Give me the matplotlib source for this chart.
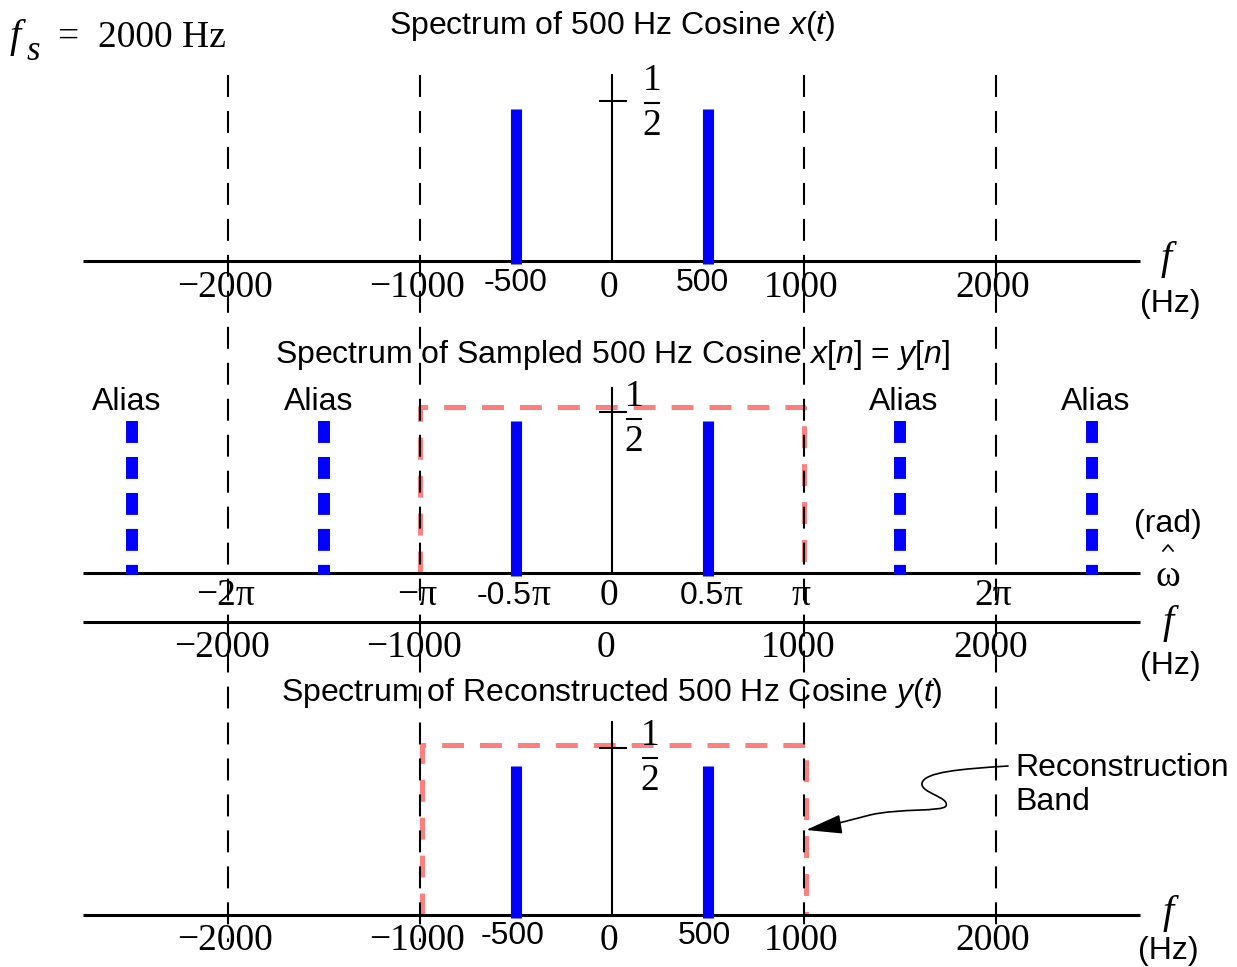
import numpy as np
import matplotlib
matplotlib.use('Agg')
import matplotlib.pyplot as plt
from matplotlib.path import Path
from matplotlib.patches import FancyArrowPatch

plt.rcParams['lines.scale_dashes'] = False
plt.rcParams['mathtext.fontset'] = 'custom'
plt.rcParams['mathtext.rm'] = 'Liberation Sans'
plt.rcParams['mathtext.it'] = 'Liberation Sans:italic'

SERIF = 'Liberation Serif'
SANS = 'Liberation Sans'

# data
fs = 2000                       # Hz sampling rate
f0 = 500                        # Hz cosine
amp = 0.5
spec_freqs = [-500, 500]        # original lines
alias_freqs = [-2500, -1500, 1500, 2500]
grid_freqs = [-2000, -1000, 1000, 2000]
band = [-fs / 2, fs / 2]        # reconstruction band
hz_ticks = [-2000, -1000, 0, 1000, 2000]
hz_labels = ['\u22122000', '\u22121000', '0', '1000', '2000']
w_ticks = [-2000, -1000, 0, 1000, 2000]
w_labels = ['\u22122\u03c0', '\u2212\u03c0', '0', '\u03c0', '2\u03c0']
w_half_ticks = [-500, 500]
w_half_labels = ['-0.5', '0.5']
half_ticks = [-500, 500]
half_labels = ['-500', '500']

# layout (pixels from top), x in Hz: 0 Hz at 612 px, 0.192 px per Hz
X0, SC = 612, 0.192
def hz(px):
    return (px - X0) / SC

bases = [261, 573, 915]
base_hz2 = 622
yscale = 304                    # px per unit amplitude
tick_h = [160, 161, 167]

fig = plt.figure(figsize=(12.37, 9.67), dpi=100)
ax = fig.add_axes([0, 0, 1, 1])
ax.set_xlim(hz(0), hz(1237))
ax.set_ylim(967, 0)
ax.axis('off')

# dashed grid lines at multiples of fs/2
for g in grid_freqs:
    ax.plot([g, g], [75, 942], color='k', lw=1.5, dashes=(15.8, 10.1), zorder=4)

xl, xr = hz(83), hz(1140)
# horizontal axes
for b in bases + [base_hz2]:
    ax.plot([xl, xr], [b, b], color='k', lw=2.2, solid_capstyle='butt', zorder=3)

# vertical axes, ticks, 1/2 labels
vtops = [75, 388, 722]
frac_x = [652, 634, 650]
frac_dy = [4, 9, 12]
for i, b in enumerate(bases):
    ax.plot([0, 0], [vtops[i], b], color='k', lw=1.5, zorder=3)
    ty = b - tick_h[i]
    ax.plot([hz(600), hz(626)], [ty, ty], color='k', lw=1.5, zorder=3)
    fx = hz(frac_x[i])
    fy = ty - 2 + frac_dy[i]
    ax.text(fx, fy - 22, '1', family=SERIF, fontsize=27, ha='center', va='center')
    ax.plot([hz(frac_x[i] - 7), hz(frac_x[i] + 7)], [fy, fy], color='k', lw=1.5)
    ax.text(fx, fy + 23, '2', family=SERIF, fontsize=27, ha='center', va='center')

# spectral lines
for b in bases:
    ax.vlines(spec_freqs, b + 3, b - amp * yscale + (3 if b == 915 else 0),
              color='#0000FF', lw=8, zorder=5)
for a in alias_freqs:
    ax.plot([a, a], [bases[1] - amp * yscale, bases[1] + 2], color='#0000FF', lw=8.6,
            dashes=(15.8, 10.1), solid_capstyle='butt', zorder=5)
    ax.text(a - 30 if a < 0 else a + 20, 402, 'Alias', family=SANS, fontsize=23,
            ha='center', va='center')

# reconstruction band outlines
for b, top, dx in [(bases[1], 407, 0), (bases[2], 745, 10)]:
    ax.plot([band[0] + dx, band[0] + dx, band[1] + dx, band[1] + dx], [b, top, top, b],
            color='#FF7F7F', lw=3.6, dashes=(15.8, 11.5), zorder=2)

# titles
ax.text(0, 26, 'Spectrum of 500 Hz Cosine $x$($t$)', family=SANS, fontsize=23,
        ha='center', va='center')
ax.text(0, 355, 'Spectrum of Sampled 500 Hz Cosine $x$[$n$] = $y$[$n$]', family=SANS,
        fontsize=23, ha='center', va='center')
ax.text(0, 693, 'Spectrum of Reconstructed 500 Hz Cosine $\\mathit{y(t)}$', family=SANS,
        fontsize=23, ha='center', va='center')

# f_s = 2000 Hz
ax.text(hz(10), 37, 'f', family=SERIF, style='italic', fontsize=29, ha='left', va='center')
ax.text(hz(27), 51, 's', family=SERIF, style='italic', fontsize=25, ha='left', va='center')
ax.text(hz(58), 38, '=  2000 Hz', family=SERIF, fontsize=27, ha='left', va='center')

# tick labels
for rowy in [288, 941]:
    for t, lab in zip(hz_ticks, hz_labels):
        ax.text(t - 15, rowy, lab, family=SERIF, fontsize=27, ha='center', va='center')
for t, lab in zip(half_ticks, half_labels):
    ax.text(t if t < 0 else t - 30, 283, lab, family=SANS, fontsize=23,
            ha='center', va='center')
    ax.text(t - 20, 936, lab, family=SANS, fontsize=23, ha='center', va='center')
for t, lab in zip(hz_ticks, hz_labels):
    ax.text(t - 30, 648, lab, family=SERIF, fontsize=27, ha='center', va='center')
for t, lab in zip(w_ticks, w_labels):
    ax.text(t - 15, 596, lab, family=SERIF, fontsize=27, ha='center', va='center')
for t, lab in zip(w_half_ticks, w_half_labels):
    ax.text(t + 16 / SC, 596, lab, family=SANS, fontsize=23, ha='right', va='center')
    ax.text(t + 16 / SC, 596, '\u03c0', family=SERIF, fontsize=27, ha='left', va='center')

# axis names
ax.text(hz(1166), 259, 'f', family=SERIF, style='italic', fontsize=29, ha='center', va='center')
ax.text(hz(1170), 304, '(Hz)', family=SANS, fontsize=23, ha='center', va='center')
ax.text(hz(1168), 524, '(rad)', family=SANS, fontsize=23, ha='center', va='center')
ax.plot([hz(1163), hz(1168), hz(1173)], [551, 545, 551], color='k', lw=1.2)
ax.text(hz(1168), 577, '\u03c9', family=SERIF, fontsize=27, ha='center', va='center')
ax.text(hz(1168), 623, 'f', family=SERIF, style='italic', fontsize=29, ha='center', va='center')
ax.text(hz(1170), 666, '(Hz)', family=SANS, fontsize=23, ha='center', va='center')
ax.text(hz(1168), 913, 'f', family=SERIF, style='italic', fontsize=29, ha='center', va='center')
ax.text(hz(1168), 951, '(Hz)', family=SANS, fontsize=23, ha='center', va='center')

# reconstruction band note
ax.text(hz(1015), 768, 'Reconstruction', family=SANS, fontsize=23, ha='left', va='center')
ax.text(hz(1015), 802, 'Band', family=SANS, fontsize=23, ha='left', va='center')
pts = [(1008, 766), (960, 769), (925, 772), (922, 783),
       (920, 793), (950, 797), (946, 806),
       (942, 812), (900, 808), (870, 815),
       (850, 820), (830, 826), (806, 830)]
codes = [Path.MOVETO] + [Path.CURVE4] * 12
path = Path([(hz(px), py) for px, py in pts], codes)
arr = FancyArrowPatch(path=path, arrowstyle='-|>,head_length=1.5,head_width=0.4',
                      mutation_scale=15, lw=1.2, color='k', shrinkA=0, shrinkB=0,
                      transform=ax.transData, zorder=6)
ax.add_patch(arr)

fig.savefig('out.png', dpi=100)
